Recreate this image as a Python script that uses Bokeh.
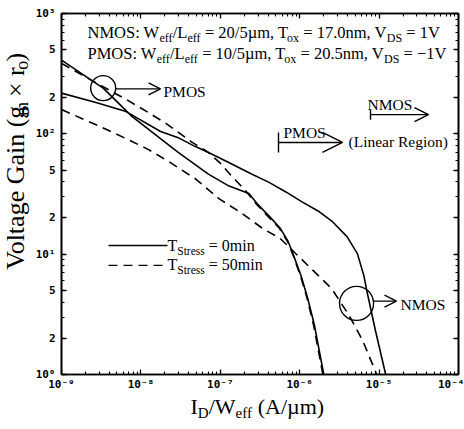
import math
from bokeh.plotting import figure
from bokeh.layouts import column, row
from bokeh.models import (FixedTicker, Label, Arrow, OpenHead, TeeHead, LogAxis,
                          CustomJSTickFormatter, Range1d)
from bokeh.embed import file_html
from bokeh.resources import INLINE

# ---------------- data ----------------
pmos_0min_x = [1.00e-9, 3.35e-9, 7.76e-9, 2.95e-8, 7.08e-8, 1.29e-7, 2.29e-7, 2.92e-7,
               4.18e-7, 5.62e-7, 7.18e-7, 8.38e-7, 1.045e-6, 1.26e-6, 1.53e-6, 2.01e-6]
pmos_0min_y = [410, 240, 139, 70, 46.3, 36.8, 32.0, 26.2,
               20.5, 16.6, 12.7, 9.76, 6.55, 4.31, 2.58, 1.0]

pmos_50min_x = [1.00e-9, 3.34e-9, 6.64e-9, 1.19e-8, 2.15e-8, 4.24e-8, 7.0e-8, 1.0e-7,
                1.39e-7, 2.10e-7, 2.83e-7, 4.1e-7, 5.55e-7, 7.1e-7, 8.3e-7, 1.03e-6,
                1.24e-6, 1.5e-6, 1.96e-6]
pmos_50min_y = [385, 246, 192, 153, 120, 86.5, 70.3, 57.0,
                44.6, 33.5, 26.2, 20.2, 16.4, 12.6, 9.7, 6.5,
                4.3, 2.55, 1.0]

nmos_0min_x = [1.00e-9, 2.79e-9, 6.50e-9, 1.77e-8, 2.90e-8, 4.78e-8, 7.0e-8, 1.26e-7,
               2.47e-7, 4.06e-7, 6.70e-7, 1.07e-6, 1.77e-6, 2.59e-6, 3.94e-6, 5.33e-6,
               6.46e-6, 6.90e-6, 9.02e-6, 1.21e-5]
nmos_0min_y = [218, 181.5, 153, 104.7, 93.4, 78.7, 70.3, 58.1,
               46.3, 39.7, 32.9, 27.2, 22.5, 18.6, 14.0, 10.1,
               6.55, 5.2, 2.3, 1.0]

nmos_50min_x = [1.00e-9, 2.68e-9, 6.84e-9, 1.23e-8, 2.21e-8, 4.91e-8, 9.70e-8, 1.75e-7,
                3.44e-7, 5.68e-7, 9.42e-7, 1.39e-6, 2.51e-6, 4.19e-6, 6.24e-6, 9.33e-6]
nmos_50min_y = [159, 119.5, 89.9, 74.3, 59.2, 42.1, 28.8, 22.5,
                16.3, 13.5, 9.76, 7.6, 5.2, 3.1, 1.9, 1.0]

# circled regions (data coordinates on the curves)
circle_x = [3.35e-9, 5.2e-6]
circle_y = [240, 3.9]
circle_d = [25, 34]

x_major = [1e-9, 1e-8, 1e-7, 1e-6, 1e-5, 1e-4]
x_minor = [k * 10.0 ** e for e in range(-9, -4) for k in range(2, 10)]
y_major = [1, 2, 5, 10, 20, 50, 100, 200, 500, 1000]
y_minor = [k * 10.0 ** e for e in range(0, 3) for k in (3, 4, 6, 7, 8, 9)]

# ---------------- layout (window pixels) ----------------
SERIF = "Liberation Serif"
WIN_W, WIN_H = 464, 429
YL_W = 32            # strip holding the y-axis title
MAIN_H = 393         # height of the main plot canvas
FL, FR, FT, FB = 61, 458, 13, 377   # frame edges in window pixels
ANCH = 0.345         # Bokeh label anchor sits this many em above the baseline

p = figure(width=WIN_W - YL_W, height=MAIN_H, x_axis_type="log", y_axis_type="log",
           x_range=(1e-9, 1e-4), y_range=(1, 1e3), output_backend="svg",
           toolbar_location=None,
           min_border_left=FL - YL_W, min_border_right=WIN_W - FR,
           min_border_top=FT, min_border_bottom=MAIN_H - FB)
p.grid.visible = False
p.outline_line_color = "black"
p.outline_line_width = 1.6
p.background_fill_color = "white"
p.border_fill_color = "white"


def strip(w, h, xr, yr):
    f = figure(width=w, height=h, x_range=Range1d(*xr), y_range=Range1d(*yr),
               output_backend="svg", toolbar_location=None,
               x_axis_location=None, y_axis_location=None,
               min_border_left=0, min_border_right=0, min_border_top=0, min_border_bottom=0)
    f.grid.visible = False
    f.outline_line_color = None
    f.background_fill_color = "white"
    f.border_fill_color = "white"
    return f


ylab_fig = strip(YL_W, MAIN_H, (0, YL_W), (MAIN_H, 0))
xlab_fig = strip(WIN_W, WIN_H - MAIN_H, (0, WIN_W), (WIN_H, MAIN_H))

fmt = CustomJSTickFormatter(code=r"""
const e = Math.floor(Math.log10(tick) + 1e-6);
const m = Math.round(tick / Math.pow(10, e));
if (m === 1) {
  const sup = {"-": "\u207b", "0": "\u2070", "1": "\u00b9", "2": "\u00b2", "3": "\u00b3",
               "4": "\u2074", "5": "\u2075", "6": "\u2076", "7": "\u2077", "8": "\u2078", "9": "\u2079"};
  return "10" + String(e).split("").map(c => sup[c]).join("");
}
return String(m);
""")


def style_axis(ax, show_labels):
    ax.major_tick_in = 5
    ax.major_tick_out = 0
    ax.minor_tick_in = 3
    ax.minor_tick_out = 0
    ax.axis_line_width = 1.6
    ax.major_tick_line_width = 1.3
    ax.minor_tick_line_width = 1.1
    ax.axis_label = None
    if show_labels:
        ax.major_label_text_font = "DejaVu Sans Mono"
        ax.major_label_text_font_style = "bold"
        ax.major_label_text_font_size = "11px"
        ax.major_label_text_color = "black"
    else:
        ax.major_label_text_font_size = "1px"
        ax.major_label_text_color = None
        ax.major_label_standoff = 0


p.xaxis.ticker = FixedTicker(ticks=x_major, minor_ticks=x_minor)
p.yaxis.ticker = FixedTicker(ticks=y_major, minor_ticks=y_minor)
p.xaxis.formatter = fmt
p.yaxis.formatter = fmt
style_axis(p.xaxis[0], True)
style_axis(p.yaxis[0], True)
p.xaxis.major_label_standoff = 3
p.yaxis.major_label_standoff = 6

top = LogAxis(ticker=FixedTicker(ticks=x_major, minor_ticks=x_minor))
right = LogAxis(ticker=FixedTicker(ticks=y_major, minor_ticks=y_minor))
style_axis(top, False)
style_axis(right, False)
p.add_layout(top, "above")
p.add_layout(right, "right")

# ---------------- curves ----------------
LW = 1.6
DASH = "9 6"
p.line(pmos_0min_x, pmos_0min_y, line_color="black", line_width=LW)
p.line(pmos_50min_x, pmos_50min_y, line_color="black", line_width=LW, line_dash=DASH)
p.line(nmos_0min_x, nmos_0min_y, line_color="black", line_width=LW)
p.line(nmos_50min_x, nmos_50min_y, line_color="black", line_width=LW, line_dash=DASH)

p.scatter(circle_x, circle_y, marker="circle", size=circle_d, fill_color=None,
          line_color="black", line_width=1.4)


# ---------------- annotation helpers ----------------
def dx(wx):
    return 10 ** (-9 + 5 * (wx - FL) / (FR - FL))


def dy(wy):
    return 10 ** (3 * (FB - wy) / (FB - FT))


def ident(v):
    return v


def wx_of(x):
    return FL + (math.log10(x) + 9) * (FR - FL) / 5


WID = {' ': 250, '(': 333, ')': 333, ',': 250, '.': 250, '/': 278, ':': 278,
       '=': 564, '\u2212': 564, '\u00d7': 564, '\u00b5': 500,
       'A': 722, 'D': 722, 'G': 722, 'I': 333, 'L': 611, 'M': 889, 'N': 722,
       'O': 722, 'P': 556, 'R': 667, 'S': 556, 'T': 611, 'V': 722, 'W': 944,
       'a': 444, 'e': 444, 'f': 333, 'g': 500, 'i': 278, 'l': 278, 'm': 778,
       'n': 500, 'o': 500, 'r': 333, 's': 389, 't': 278, 'x': 500}


def tw(s, size):
    return sum(WID.get(c, 500) for c in s) * size / 1000.0


def rich(wx, wy, pieces, fig=p, fx=dx, fy=dy, vertical=False):
    """Lay out text pieces along a baseline; shift > 0 lowers a piece (subscript)."""
    for text, size, shift in pieces:
        lead = len(text) - len(text.lstrip(' '))
        core = text.strip(' ')
        adv0 = lead * 250 * size / 1000.0
        drop = shift - ANCH * size
        if not vertical:
            fig.add_layout(Label(x=fx(wx + adv0), y=fy(wy + drop), text=core,
                                 text_font=SERIF, text_font_size=f"{size}px",
                                 text_baseline="alphabetic", text_align="left",
                                 text_color="black"))
            wx += tw(text, size)
        else:
            fig.add_layout(Label(x=fx(wx + drop), y=fy(wy - adv0), text=core,
                                 angle=math.pi / 2,
                                 text_font=SERIF, text_font_size=f"{size}px",
                                 text_baseline="alphabetic", text_align="left",
                                 text_color="black"))
            wy -= tw(text, size)


def arrow(x0, y0, x1, y1, start=None, end=None, dash="solid", lw=1.4):
    p.add_layout(Arrow(x_start=dx(x0), y_start=dy(y0), x_end=dx(x1), y_end=dy(y1),
                       start=start, end=end, line_color="black", line_width=lw,
                       line_dash=dash))


def ohead(size):
    return OpenHead(size=size, line_color="black", line_width=1.4)


def thead(size):
    return TeeHead(size=size, line_color="black", line_width=1.4)


# ---------------- texts ----------------
M, S = 16.5, 12
rich(87, 38, [("NMOS: W", M, 0), ("eff", S, 4), ("/L", M, 0), ("eff", S, 4),
              (" = 20/5\u00b5m, T", M, 0), ("ox", S, 4), (" = 17.0nm, V", M, 0),
              ("DS", S, 4), (" = 1V", M, 0)])
rich(87, 59, [("PMOS: W", M, 0), ("eff", S, 4), ("/L", M, 0), ("eff", S, 4),
              (" = 10/5\u00b5m, T", M, 0), ("ox", S, 4), (" = 20.5nm, V", M, 0),
              ("DS", S, 4), (" = \u22121V", M, 0)])

# axis titles (in their own strips, window coordinates)
rich(190, 413.5, [("I", 22, 0), ("D", 15, 4.5), ("/W", 22, 0), ("eff", 15, 4.5),
                  (" (A/\u00b5m)", 22, 0)], fig=xlab_fig, fx=ident, fy=ident)
rich(24, 279, [("Voltage Gain (g", 26, 0), ("m", 18, 3.5), (" \u00d7 r", 26, 0),
               ("o", 18, 3.5), (")", 26, 0)], fig=ylab_fig, fx=ident, fy=ident,
     vertical=True)

# legend
LM, LS = 16, 11.5
arrow(108, 247, 167, 247)
arrow(108, 267, 167, 267, dash=DASH)
rich(167, 252, [("T", LM, 0), ("Stress", LS, 4), (" = 0min", LM, 0)])
rich(167, 272, [("T", LM, 0), ("Stress", LS, 4), (" = 50min", LM, 0)])

# circle call-outs
L2 = 15.5
pc = wx_of(circle_x[0]) + circle_d[0] / 2
arrow(pc, 89, 160, 89, end=ohead(12))
rich(163, 97, [("PMOS", L2, 0)])
nc = wx_of(circle_x[1]) + circle_d[1] / 2
arrow(nc, 303, 396, 303, end=ohead(12))
rich(400, 312, [("NMOS", L2, 0)])

# linear-region markers
arrow(370, 115, 428, 115, start=thead(10), end=ohead(14))
rich(367, 110, [("NMOS", L2, 0)])
arrow(278, 143, 342, 143, start=thead(20), end=ohead(20))
rich(283, 138, [("PMOS", L2, 0)])
rich(348, 147, [("(Linear Region)", L2, 0)])

layout = column(row(ylab_fig, p), xlab_fig)
open("out.html", "w").write(file_html(layout, INLINE))
